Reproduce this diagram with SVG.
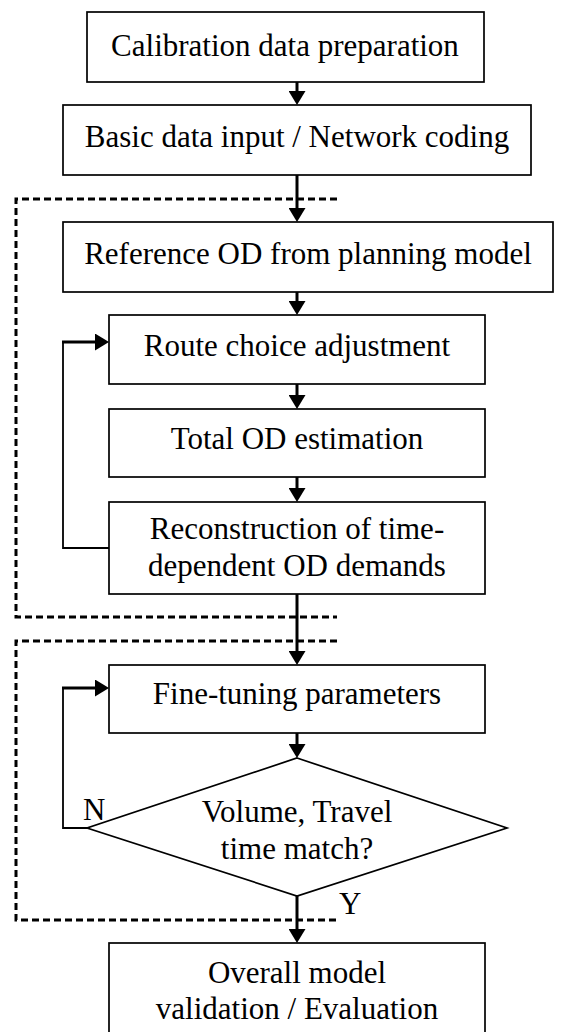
<svg xmlns="http://www.w3.org/2000/svg" width="566" height="1032" viewBox="0 0 566 1032">
<defs>
<style>
.box{fill:#fff;stroke:#000;stroke-width:1.7}
.t{text-anchor:middle}
.arr{fill:none;stroke:#000;stroke-width:3;marker-end:url(#ah)}
.thin{fill:none;stroke:#000;stroke-width:1.8}
.dash{fill:none;stroke:#000;stroke-width:3;stroke-dasharray:7,4}
</style>
<marker id="ah" viewBox="0 0 14 17" refX="0" refY="8.5" markerWidth="14" markerHeight="17" orient="auto" markerUnits="userSpaceOnUse">
<path d="M0,0 L14,8.5 L0,17 Z" fill="#000"/>
</marker>
</defs>
<rect width="566" height="1032" fill="#fff"/>
<g font-family="'Liberation Serif', 'Times New Roman', 'DejaVu Serif', serif" font-size="31" fill="#000">
<g id="n1"><rect class="box" x="87" y="12" width="397" height="70"/><text class="t" x="285" y="56">Calibration data preparation</text></g>
<g id="n2"><rect class="box" x="63" y="105" width="468" height="70"/><text class="t" x="297" y="147">Basic data input / Network coding</text></g>
<g id="n3"><rect class="box" x="63" y="222" width="490" height="70"/><text class="t" x="308" y="264">Reference OD from planning model</text></g>
<g id="n4"><rect class="box" x="109" y="315" width="376" height="69"/><text class="t" x="297" y="356">Route choice adjustment</text></g>
<g id="n5"><rect class="box" x="109" y="409" width="376" height="68"/><text class="t" x="297" y="449">Total OD estimation</text></g>
<g id="n6"><rect class="box" x="109" y="502" width="376" height="92"/><text class="t" x="297" y="539">Reconstruction of time-</text><text class="t" x="297" y="576">dependent OD demands</text></g>
<g id="n7"><rect class="box" x="109" y="665" width="376" height="68"/><text class="t" x="297" y="704">Fine-tuning parameters</text></g>
<g id="n8"><polygon class="box" points="297,758 507,828 297,896 87,828"/><text class="t" x="297" y="822">Volume, Travel</text><text class="t" x="297" y="859">time match?</text></g>
<g id="n9"><rect class="box" x="109" y="943" width="376" height="93"/><text class="t" x="297" y="983">Overall model</text><text class="t" x="297" y="1019">validation / Evaluation</text></g>
<g id="connectors">
<path class="dash" d="M337,199 H16 V617 H337"/>
<path class="dash" d="M337,641 H16 V920 H337"/>
<path class="arr" d="M297,82 V91"/>
<path class="arr" d="M297,175 V208"/>
<path class="arr" d="M297,292 V301"/>
<path class="arr" d="M297,384 V395"/>
<path class="arr" d="M297,477 V488"/>
<path class="arr" d="M297,594 V651"/>
<path class="arr" d="M297,733 V744"/>
<path class="arr" d="M297,896 V929"/>
<path class="thin" d="M109,548 H63 V342"/>
<path class="arr" d="M62,342 H95"/>
<path class="thin" d="M87,828 H63 V688"/>
<path class="arr" d="M62,688 H95"/>
<text x="83" y="820">N</text>
<text x="339" y="914">Y</text>
</g>
</g>
</svg>
